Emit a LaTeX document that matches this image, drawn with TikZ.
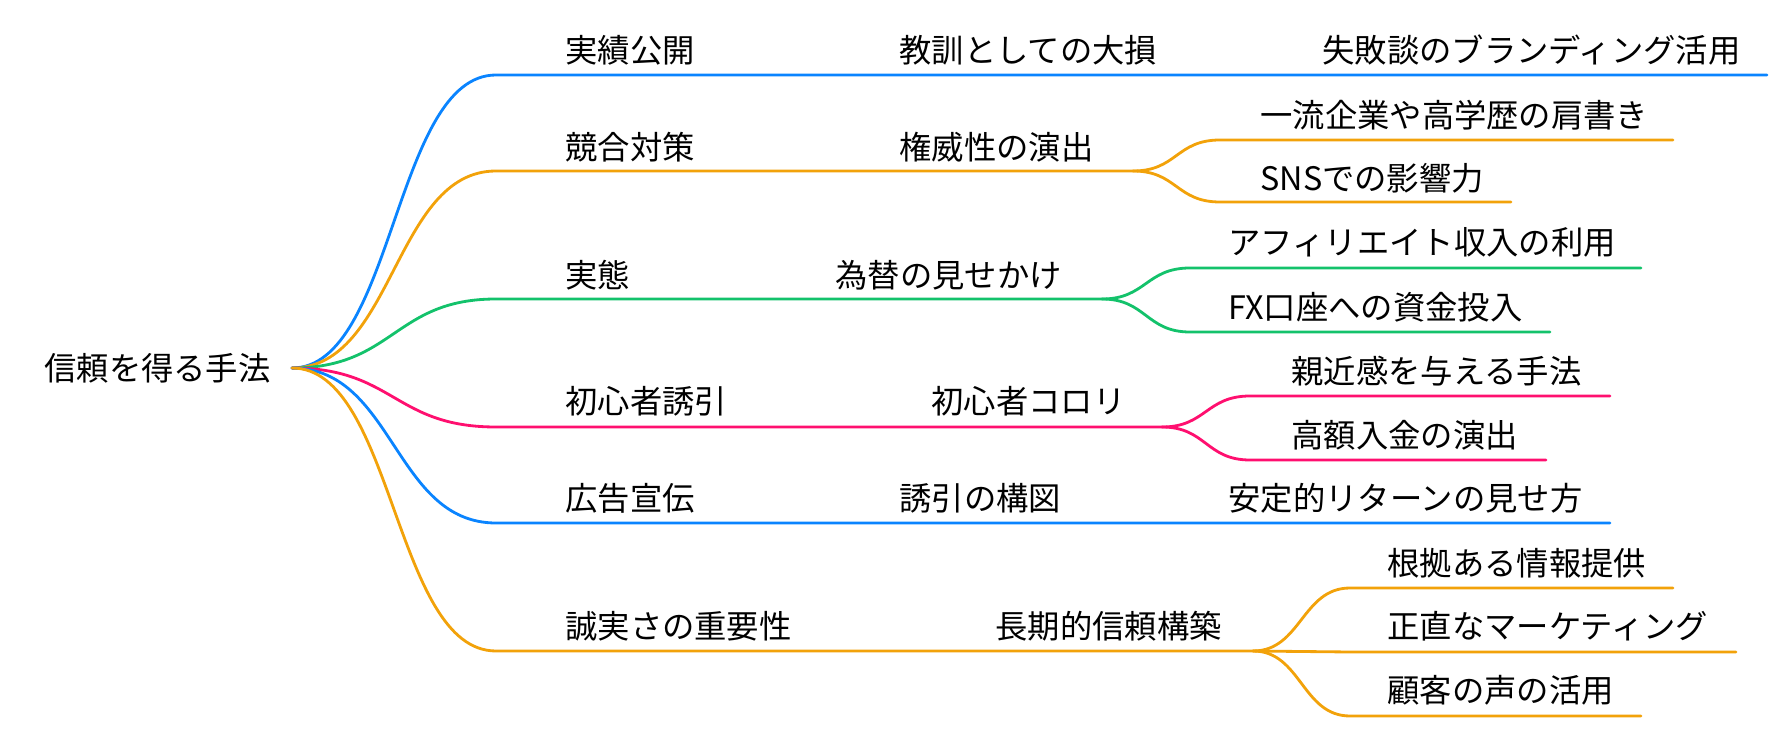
\documentclass[tikz,border=0pt]{standalone}
\usepackage{fontspec}
\usepackage{xcolor}
\usepackage{tikz}
\usetikzlibrary{calc}
\newfontfamily\jpfont{Noto Sans CJK JP}
\definecolor{text}{HTML}{000000}
\definecolor{blue}{HTML}{0A84FF}
\definecolor{orange}{HTML}{F2A20A}
\definecolor{green}{HTML}{13C26B}
\definecolor{pink}{HTML}{FF0F6F}
\tikzset{
  br/.style={line width=1.6pt, line cap=round},
  lab/.style={anchor=west, inner sep=0pt, font=\jpfont\fontsize{18.4pt}{21pt}\selectfont},
  every node/.style={text=text}
}
\begin{document}
\begin{tikzpicture}[x=0.02cm, y=-0.02cm]
  \useasboundingbox (0,0) rectangle (1788,736);

  \node[lab] (R) at (44,368) {信頼を得る手法};
  \coordinate (R0) at (292,368);

  % 実績公開
  \coordinate (A1) at (496,75);
  \coordinate (A2) at (1767,75);
  \node[lab] (A) at (565,50) {実績公開};
  \node[lab] (AA) at (899,50) {教訓としての大損};
  \node[lab] (AAA) at (1322,50) {失敗談のブランディング活用};
  \draw[br,blue] (R0) .. controls +(102,0) and +(-102,0) .. (A1) -- (A2);

  % 競合対策
  \coordinate (B1) at (496,171);
  \coordinate (B2) at (1133,171);
  \coordinate (B3) at (1220,140);
  \coordinate (B4) at (1673,140);
  \coordinate (B5) at (1220,202);
  \coordinate (B6) at (1511,202);
  \node[lab] (B) at (565,147) {競合対策};
  \node[lab] (BB) at (899,147) {権威性の演出};
  \node[lab] (BB1) at (1260,115) {一流企業や高学歴の肩書き};
  \node[lab] (BB2) at (1260,178) {SNSでの影響力};
  \draw[br,orange] (R0) .. controls +(102,0) and +(-102,0) .. (B1) -- (B2);
  \draw[br,orange] (B2) .. controls +(44,0) and +(-44,0) .. (B3) -- (B4);
  \draw[br,orange] (B2) .. controls +(44,0) and +(-44,0) .. (B5) -- (B6);

  % 実態
  \coordinate (C1) at (496,299);
  \coordinate (C2) at (1102,299);
  \coordinate (C3) at (1190,268);
  \coordinate (C4) at (1641,268);
  \coordinate (C5) at (1190,332);
  \coordinate (C6) at (1550,332);
  \node[lab] (C) at (565,275) {実態};
  \node[lab] (CC) at (835,275) {為替の見せかけ};
  \node[lab] (CC1) at (1228,242) {アフィリエイト収入の利用};
  \node[lab] (CC2) at (1228,307) {FX口座への資金投入};
  \draw[br,green] (R0) .. controls +(102,0) and +(-102,0) .. (C1) -- (C2);
  \draw[br,green] (C2) .. controls +(44,0) and +(-44,0) .. (C3) -- (C4);
  \draw[br,green] (C2) .. controls +(44,0) and +(-44,0) .. (C5) -- (C6);

  % 初心者誘引
  \coordinate (D1) at (496,427);
  \coordinate (D2) at (1162,427);
  \coordinate (D3) at (1250,396);
  \coordinate (D4) at (1610,396);
  \coordinate (D5) at (1250,460);
  \coordinate (D6) at (1546,460);
  \node[lab] (D) at (565,401) {初心者誘引};
  \node[lab] (DD) at (931,401) {初心者コロリ};
  \node[lab] (DD1) at (1291,371) {親近感を与える手法};
  \node[lab] (DD2) at (1291,435) {高額入金の演出};
  \draw[br,pink] (R0) .. controls +(102,0) and +(-102,0) .. (D1) -- (D2);
  \draw[br,pink] (D2) .. controls +(44,0) and +(-44,0) .. (D3) -- (D4);
  \draw[br,pink] (D2) .. controls +(44,0) and +(-44,0) .. (D5) -- (D6);

  % 広告宣伝
  \coordinate (E1) at (496,523);
  \coordinate (E2) at (1610,523);
  \node[lab] (E) at (565,498) {広告宣伝};
  \node[lab] (EE) at (899,498) {誘引の構図};
  \node[lab] (EEE) at (1228,498) {安定的リターンの見せ方};
  \draw[br,blue] (R0) .. controls +(102,0) and +(-102,0) .. (E1) -- (E2);

  % 誠実さの重要性
  \coordinate (F1) at (496,651);
  \coordinate (F2) at (1253,651);
  \coordinate (F3) at (1350,588);
  \coordinate (F4) at (1673,588);
  \coordinate (F5) at (1350,652);
  \coordinate (F6) at (1736,652);
  \coordinate (F7) at (1350,716);
  \coordinate (F8) at (1641,716);
  \node[lab] (F) at (565,626) {誠実さの重要性};
  \node[lab] (FF) at (995,626) {長期的信頼構築};
  \node[lab] (FF1) at (1387,563) {根拠ある情報提供};
  \node[lab] (FF2) at (1387,626) {正直なマーケティング};
  \node[lab] (FF3) at (1387,690) {顧客の声の活用};
  \draw[br,orange] (R0) .. controls +(102,0) and +(-102,0) .. (F1) -- (F2);
  \draw[br,orange] (F2) .. controls +(48,0) and +(-48,0) .. (F3) -- (F4);
  \draw[br,orange] (F2) -- (F5) -- (F6);
  \draw[br,orange] (F2) .. controls +(48,0) and +(-48,0) .. (F7) -- (F8);
\end{tikzpicture}
\end{document}
